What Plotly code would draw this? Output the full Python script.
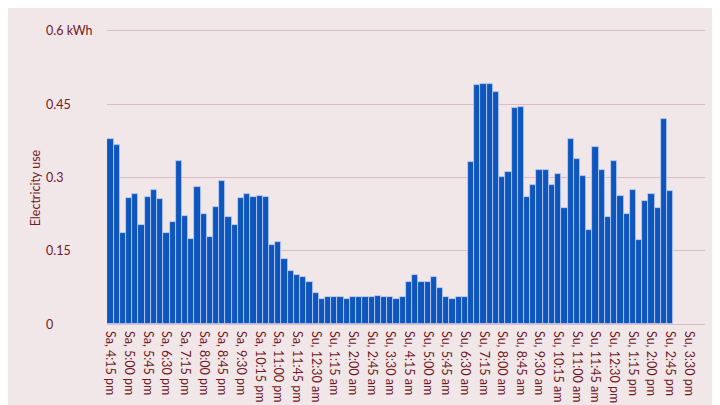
import plotly.graph_objects as go

# 15-minute electricity use, Sa 4:15 pm .. Su 2:45 pm (kWh)
usage = [
    0.379, 0.367, 0.187, 0.257, 0.267, 0.203, 0.261, 0.275, 0.255, 0.187,
    0.209, 0.333, 0.221, 0.174, 0.281, 0.226, 0.179, 0.239, 0.292, 0.219,
    0.203, 0.257, 0.267, 0.261, 0.263, 0.261, 0.161, 0.167, 0.133, 0.109,
    0.101, 0.097, 0.087, 0.063, 0.051, 0.055, 0.055, 0.055, 0.051, 0.055,
    0.055, 0.055, 0.055, 0.058, 0.055, 0.055, 0.051, 0.055, 0.087, 0.101,
    0.087, 0.085, 0.097, 0.073, 0.055, 0.051, 0.055, 0.055, 0.332, 0.490,
    0.492, 0.492, 0.474, 0.302, 0.312, 0.442, 0.444, 0.261, 0.285, 0.315,
    0.315, 0.285, 0.308, 0.237, 0.378, 0.338, 0.303, 0.192, 0.362, 0.315,
    0.219, 0.333, 0.263, 0.225, 0.275, 0.173, 0.251, 0.266, 0.237, 0.420,
    0.273,
]

tick_labels = [
    "Sa, 4:15 pm", "Sa, 5:00 pm", "Sa, 5:45 pm", "Sa, 6:30 pm", "Sa, 7:15 pm",
    "Sa, 8:00 pm", "Sa, 8:45 pm", "Sa, 9:30 pm", "Sa, 10:15 pm", "Sa, 11:00 pm",
    "Sa, 11:45 pm", "Su, 12:30 am", "Su, 1:15 am", "Su, 2:00 am", "Su, 2:45 am",
    "Su, 3:30 am", "Su, 4:15 am", "Su, 5:00 am", "Su, 5:45 am", "Su, 6:30 am",
    "Su, 7:15 am", "Su, 8:00 am", "Su, 8:45 am", "Su, 9:30 am", "Su, 10:15 am",
    "Su, 11:00 am", "Su, 11:45 am", "Su, 12:30 pm", "Su, 1:15 pm", "Su, 2:00 pm",
    "Su, 2:45 pm", "Su, 3:30 pm",
]
tick_step = 3  # one label every 45 minutes (3 slots of 15 min)

y_ticks = [0, 0.15, 0.3, 0.45, 0.6]
y_tick_text = ["0", "0.15", "0.3", "0.45", "0.6 kWh"]

BG = "rgb(241,231,233)"
TXT = "rgb(112,26,38)"
GRID = "rgb(218,190,193)"
BAR = "rgb(14,86,190)"
FONT = "Lato"

x_idx = list(range(len(usage)))

fig = go.Figure(go.Bar(
    x=x_idx, y=usage,
    marker=dict(color=BAR, line=dict(color="rgba(200,215,245,0.9)", width=0.8)),
    hoverinfo="y",
))

fig.update_layout(
    width=720, height=405,
    margin=dict(l=99, r=23, t=21, b=89, autoexpand=False),
    paper_bgcolor=BG, plot_bgcolor=BG,
    bargap=0,
    showlegend=False,
    font=dict(family=FONT, size=12, color=TXT),
)

fig.update_xaxes(
    range=[-0.55, 95.6],
    tickmode="array",
    tickvals=[i * tick_step for i in range(len(tick_labels))],
    ticktext=tick_labels,
    tickangle=90,
    tickfont=dict(family=FONT, size=12.5, color=TXT),
    showgrid=False, zeroline=False, showline=False,
    ticks="", ticklen=0, ticklabelstandoff=6, automargin=False,
)

fig.update_yaxes(
    range=[0, 0.604],
    tickmode="array", tickvals=y_ticks,
    showticklabels=False,
    showgrid=True, gridcolor=GRID, gridwidth=1,
    zeroline=True, zerolinecolor=GRID, zerolinewidth=1,
    showline=False, automargin=False,
)

for v, t in zip(y_ticks, y_tick_text):
    fig.add_annotation(
        x=-0.1054, xref="paper", y=v, yref="y",
        text=t, showarrow=False, xanchor="left", yanchor="middle",
        font=dict(family=FONT, size=12.5, color=TXT),
    )

fig.add_annotation(
    x=-0.1204, xref="paper", y=0.46, yref="paper",
    text="Electricity use", textangle=-90, showarrow=False,
    xanchor="center", yanchor="middle",
    font=dict(family=FONT, size=12.5, color=TXT),
)

fig.write_html("out.html")
